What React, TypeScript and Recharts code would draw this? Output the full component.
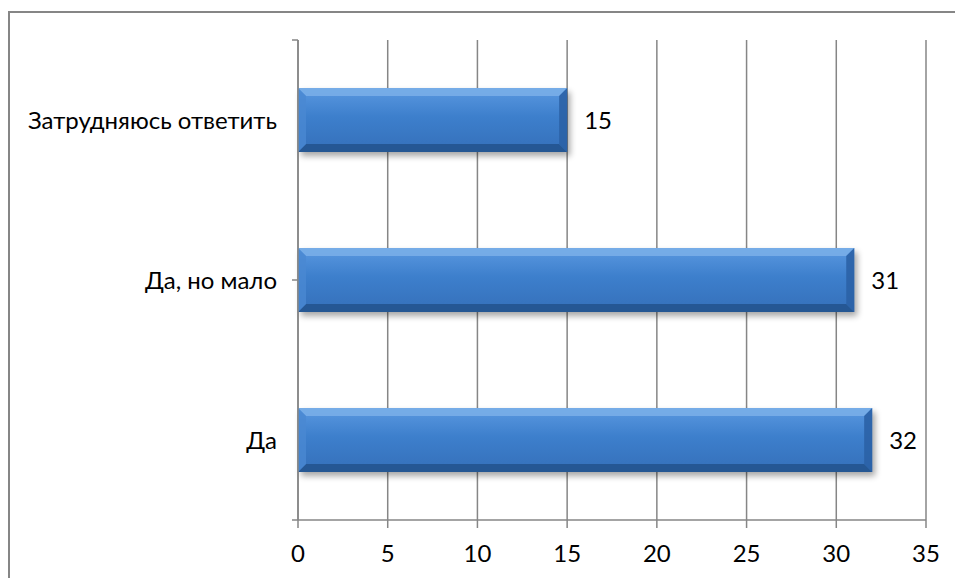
import React from "react";
import { ComposedChart, Bar, XAxis, YAxis, CartesianGrid, LabelList } from "recharts";

const categories = ["Затрудняюсь ответить", "Да, но мало", "Да"];
const values = [15, 31, 32];
const xTicks = [0, 5, 10, 15, 20, 25, 30, 35];
const bandEdges = [0, 1, 2, 3];

const data = categories.map((c, i) => ({ name: c, value: values[i] }));

const FONT = "Lato, 'Open Sans', sans-serif";
const GRID = "#868686";

const BevelBar = (props: any) => {
  const { x, y, width, height } = props;
  if (!width || width <= 0) return null;
  const b = Math.min(8, height / 4, width / 4);
  return (
    <g>
      <rect x={x + 3} y={y + 4} width={width} height={height} fill="#000" opacity={0.35} filter="url(#barShadow)" />
      <rect x={x} y={y} width={width} height={height} fill="url(#barGrad)" />
      <polygon points={`${x},${y} ${x + width},${y} ${x + width - b},${y + b} ${x + b},${y + b}`} fill="#79aee8" opacity={0.9} />
      <polygon points={`${x},${y + height} ${x + width},${y + height} ${x + width - b},${y + height - b} ${x + b},${y + height - b}`} fill="#23548f" opacity={0.9} />
      <polygon points={`${x + width},${y} ${x + width},${y + height} ${x + width - b},${y + height - b} ${x + width - b},${y + b}`} fill="#2b62a6" opacity={0.9} />
      <polygon points={`${x},${y} ${x},${y + height} ${x + b},${y + height - b} ${x + b},${y + b}`} fill="#4a88d2" opacity={0.8} />
    </g>
  );
};

const NoLabel = () => <g />;

export default function App() {
  return (
    <div style={{ position: "absolute", left: 0, top: 0, width: 955, height: 578, background: "#fff", overflow: "hidden" }}>
      <div style={{ position: "absolute", left: 8, top: 11, width: 1000, height: 700, borderLeft: `2px solid ${GRID}`, borderTop: `2px solid ${GRID}`, boxSizing: "border-box" }} />
      <div style={{ position: "absolute", left: 0, top: 0 }}>
        <ComposedChart
          width={955}
          height={578}
          data={data}
          layout="vertical"
          margin={{ top: 40, right: 29, bottom: 0, left: 0 }}
          barCategoryGap="30%"
        >
          <defs>
            <linearGradient id="barGrad" x1="0" y1="0" x2="0" y2="1">
              <stop offset="0%" stopColor="#5a98e0" />
              <stop offset="45%" stopColor="#3d7fcc" />
              <stop offset="100%" stopColor="#3570ba" />
            </linearGradient>
            <filter id="barShadow" x="-10%" y="-20%" width="120%" height="160%">
              <feGaussianBlur stdDeviation="3" />
            </filter>
          </defs>
          <CartesianGrid horizontal={false} vertical={true} stroke={GRID} strokeWidth={1.5} />
          <XAxis
            type="number"
            dataKey="value"
            domain={[0, 35]}
            ticks={xTicks}
            interval={0}
            height={58}
            tickSize={8}
            tickMargin={17}
            stroke={GRID}
            axisLine={{ stroke: GRID, strokeWidth: 1.5 }}
            tickLine={{ stroke: GRID, strokeWidth: 1.5 }}
            tick={{ fill: "#000", fontSize: 24, fontFamily: FONT }}
          />
          <YAxis
            yAxisId="a_edges"
            type="number"
            domain={[0, 3]}
            ticks={bandEdges}
            interval={0}
            width={6}
            tick={NoLabel}
            tickSize={6}
            tickMargin={0}
            stroke={GRID}
            axisLine={{ stroke: GRID, strokeWidth: 1.5 }}
            tickLine={{ stroke: GRID, strokeWidth: 1.5 }}
          />
          <YAxis
            yAxisId="b_cat"
            type="category"
            dataKey="name"
            width={292}
            axisLine={false}
            tickLine={false}
            tickSize={0}
            tickMargin={15}
            tick={{ fill: "#000", fontSize: 24, fontFamily: FONT }}
          />
          <Bar dataKey="value" yAxisId="b_cat" shape={BevelBar} isAnimationActive={false}>
            <LabelList dataKey="value" position="right" offset={17} fill="#000" fontSize={24} fontFamily={FONT} />
          </Bar>
        </ComposedChart>
      </div>
    </div>
  );
}
